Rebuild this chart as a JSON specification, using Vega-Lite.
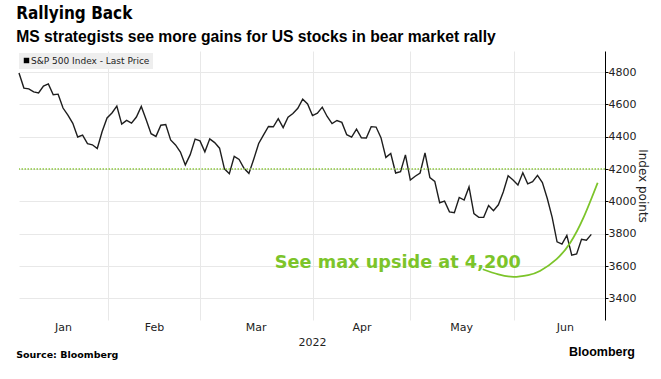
{
  "$schema": "https://vega.github.io/schema/vega-lite/v6.json",
  "background": "white",
  "padding": {"left": 16, "top": 5, "right": 4, "bottom": 4},
  "config": {
    "view": {"stroke": null},
    "font": "DejaVu Sans",
    "concat": {"spacing": 0},
    "axisRight": {"values": [3400, 3600, 3800, 4000, 4200, 4400, 4600, 4800], "format": "d", "labelOverlap": false, "grid": true, "gridColor": "#e8e8e8", "domainColor": "#000000", "tickColor": "#000000", "tickSize": 3, "labelFontSize": 11, "labelColor": "#222222", "labelPadding": 0, "titleFontSize": 12, "titleFontWeight": "normal", "titleColor": "#222222", "titlePadding": 0}
  },
  "title": {
    "text": "Rallying Back",
    "subtitle": "MS strategists see more gains for US stocks in bear market rally",
    "anchor": "start",
    "font": "DejaVu Sans Condensed",
    "fontSize": 17,
    "fontWeight": "bold",
    "color": "#000000",
    "subtitleFont": "Liberation Sans",
    "subtitleFontSize": 15.7,
    "subtitleFontWeight": "bold",
    "subtitleColor": "#000000",
    "subtitlePadding": 7,
    "offset": 5
  },
  "datasets": {
    "spx": [
      {"i": 1, "date": "2022-01-04", "close": 4793.5},
      {"i": 2, "date": "2022-01-05", "close": 4700.6},
      {"i": 3, "date": "2022-01-06", "close": 4696.1},
      {"i": 4, "date": "2022-01-07", "close": 4677.0},
      {"i": 5, "date": "2022-01-10", "close": 4670.3},
      {"i": 6, "date": "2022-01-11", "close": 4713.1},
      {"i": 7, "date": "2022-01-12", "close": 4726.4},
      {"i": 8, "date": "2022-01-13", "close": 4659.0},
      {"i": 9, "date": "2022-01-14", "close": 4662.9},
      {"i": 10, "date": "2022-01-18", "close": 4577.1},
      {"i": 11, "date": "2022-01-19", "close": 4532.8},
      {"i": 12, "date": "2022-01-20", "close": 4482.7},
      {"i": 13, "date": "2022-01-21", "close": 4397.9},
      {"i": 14, "date": "2022-01-24", "close": 4410.1},
      {"i": 15, "date": "2022-01-25", "close": 4356.5},
      {"i": 16, "date": "2022-01-26", "close": 4349.9},
      {"i": 17, "date": "2022-01-27", "close": 4326.5},
      {"i": 18, "date": "2022-01-28", "close": 4431.9},
      {"i": 19, "date": "2022-01-31", "close": 4515.6},
      {"i": 20, "date": "2022-02-01", "close": 4546.5},
      {"i": 21, "date": "2022-02-02", "close": 4589.4},
      {"i": 22, "date": "2022-02-03", "close": 4477.4},
      {"i": 23, "date": "2022-02-04", "close": 4500.5},
      {"i": 24, "date": "2022-02-07", "close": 4483.9},
      {"i": 25, "date": "2022-02-08", "close": 4521.5},
      {"i": 26, "date": "2022-02-09", "close": 4587.2},
      {"i": 27, "date": "2022-02-10", "close": 4504.1},
      {"i": 28, "date": "2022-02-11", "close": 4418.6},
      {"i": 29, "date": "2022-02-14", "close": 4401.7},
      {"i": 30, "date": "2022-02-15", "close": 4471.1},
      {"i": 31, "date": "2022-02-16", "close": 4475.0},
      {"i": 32, "date": "2022-02-17", "close": 4380.3},
      {"i": 33, "date": "2022-02-18", "close": 4348.9},
      {"i": 34, "date": "2022-02-22", "close": 4304.8},
      {"i": 35, "date": "2022-02-23", "close": 4225.5},
      {"i": 36, "date": "2022-02-24", "close": 4288.7},
      {"i": 37, "date": "2022-02-25", "close": 4384.7},
      {"i": 38, "date": "2022-02-28", "close": 4373.9},
      {"i": 39, "date": "2022-03-01", "close": 4306.3},
      {"i": 40, "date": "2022-03-02", "close": 4386.5},
      {"i": 41, "date": "2022-03-03", "close": 4363.5},
      {"i": 42, "date": "2022-03-04", "close": 4328.9},
      {"i": 43, "date": "2022-03-07", "close": 4201.1},
      {"i": 44, "date": "2022-03-08", "close": 4170.7},
      {"i": 45, "date": "2022-03-09", "close": 4277.9},
      {"i": 46, "date": "2022-03-10", "close": 4259.5},
      {"i": 47, "date": "2022-03-11", "close": 4204.3},
      {"i": 48, "date": "2022-03-14", "close": 4173.1},
      {"i": 49, "date": "2022-03-15", "close": 4262.5},
      {"i": 50, "date": "2022-03-16", "close": 4357.9},
      {"i": 51, "date": "2022-03-17", "close": 4411.7},
      {"i": 52, "date": "2022-03-18", "close": 4463.1},
      {"i": 53, "date": "2022-03-21", "close": 4461.2},
      {"i": 54, "date": "2022-03-22", "close": 4511.6},
      {"i": 55, "date": "2022-03-23", "close": 4456.2},
      {"i": 56, "date": "2022-03-24", "close": 4520.2},
      {"i": 57, "date": "2022-03-25", "close": 4543.1},
      {"i": 58, "date": "2022-03-28", "close": 4575.5},
      {"i": 59, "date": "2022-03-29", "close": 4631.6},
      {"i": 60, "date": "2022-03-30", "close": 4602.5},
      {"i": 61, "date": "2022-03-31", "close": 4530.4},
      {"i": 62, "date": "2022-04-01", "close": 4545.9},
      {"i": 63, "date": "2022-04-04", "close": 4582.6},
      {"i": 64, "date": "2022-04-05", "close": 4525.1},
      {"i": 65, "date": "2022-04-06", "close": 4481.2},
      {"i": 66, "date": "2022-04-07", "close": 4500.2},
      {"i": 67, "date": "2022-04-08", "close": 4488.3},
      {"i": 68, "date": "2022-04-11", "close": 4412.5},
      {"i": 69, "date": "2022-04-12", "close": 4397.5},
      {"i": 70, "date": "2022-04-13", "close": 4446.6},
      {"i": 71, "date": "2022-04-14", "close": 4392.6},
      {"i": 72, "date": "2022-04-18", "close": 4391.7},
      {"i": 73, "date": "2022-04-19", "close": 4462.2},
      {"i": 74, "date": "2022-04-20", "close": 4459.5},
      {"i": 75, "date": "2022-04-21", "close": 4393.7},
      {"i": 76, "date": "2022-04-22", "close": 4271.8},
      {"i": 77, "date": "2022-04-25", "close": 4296.1},
      {"i": 78, "date": "2022-04-26", "close": 4175.2},
      {"i": 79, "date": "2022-04-27", "close": 4184.0},
      {"i": 80, "date": "2022-04-28", "close": 4287.5},
      {"i": 81, "date": "2022-04-29", "close": 4131.9},
      {"i": 82, "date": "2022-05-02", "close": 4155.4},
      {"i": 83, "date": "2022-05-03", "close": 4175.5},
      {"i": 84, "date": "2022-05-04", "close": 4300.2},
      {"i": 85, "date": "2022-05-05", "close": 4146.9},
      {"i": 86, "date": "2022-05-06", "close": 4123.3},
      {"i": 87, "date": "2022-05-09", "close": 3991.2},
      {"i": 88, "date": "2022-05-10", "close": 4001.1},
      {"i": 89, "date": "2022-05-11", "close": 3935.2},
      {"i": 90, "date": "2022-05-12", "close": 3930.1},
      {"i": 91, "date": "2022-05-13", "close": 4023.9},
      {"i": 92, "date": "2022-05-16", "close": 4008.0},
      {"i": 93, "date": "2022-05-17", "close": 4088.9},
      {"i": 94, "date": "2022-05-18", "close": 3923.7},
      {"i": 95, "date": "2022-05-19", "close": 3900.8},
      {"i": 96, "date": "2022-05-20", "close": 3901.4},
      {"i": 97, "date": "2022-05-23", "close": 3973.8},
      {"i": 98, "date": "2022-05-24", "close": 3941.5},
      {"i": 99, "date": "2022-05-25", "close": 3978.7},
      {"i": 100, "date": "2022-05-26", "close": 4057.8},
      {"i": 101, "date": "2022-05-27", "close": 4158.2},
      {"i": 102, "date": "2022-05-31", "close": 4132.2},
      {"i": 103, "date": "2022-06-01", "close": 4101.2},
      {"i": 104, "date": "2022-06-02", "close": 4176.8},
      {"i": 105, "date": "2022-06-03", "close": 4108.5},
      {"i": 106, "date": "2022-06-06", "close": 4121.4},
      {"i": 107, "date": "2022-06-07", "close": 4160.7},
      {"i": 108, "date": "2022-06-08", "close": 4115.8},
      {"i": 109, "date": "2022-06-09", "close": 4017.8},
      {"i": 110, "date": "2022-06-10", "close": 3900.9},
      {"i": 111, "date": "2022-06-13", "close": 3749.6},
      {"i": 112, "date": "2022-06-14", "close": 3735.5},
      {"i": 113, "date": "2022-06-15", "close": 3790.0},
      {"i": 114, "date": "2022-06-16", "close": 3666.8},
      {"i": 115, "date": "2022-06-17", "close": 3674.8},
      {"i": 116, "date": "2022-06-21", "close": 3764.8},
      {"i": 117, "date": "2022-06-22", "close": 3759.9},
      {"i": 118, "date": "2022-06-23", "close": 3795.7}
    ],
    "curve": [
      {"i": 95.8, "v": 3580},
      {"i": 99, "v": 3548},
      {"i": 102.1, "v": 3533},
      {"i": 105.1, "v": 3544},
      {"i": 107.5, "v": 3569},
      {"i": 110.9, "v": 3643},
      {"i": 113.7, "v": 3744},
      {"i": 116.4, "v": 3899},
      {"i": 119.3, "v": 4115}
    ],
    "target": [{"level": 4200}],
    "note": [{"i": 53.3, "v": 3618, "label": "See max upside at 4,200"}]
  },
  "vconcat": [
    {
      "title": {"text": "Bloomberg", "orient": "bottom", "anchor": "end", "font": "Liberation Sans", "fontSize": 12.5, "fontWeight": "bold", "color": "#000000", "offset": -14, "dx": -14},
      "vconcat": [
        {
          "title": {"text": "Source: Bloomberg", "orient": "bottom", "anchor": "start", "font": "DejaVu Sans", "fontSize": 9.5, "fontWeight": "bold", "color": "#000000", "offset": 3},
          "width": 586,
          "height": 269,
          "resolve": {"axis": {"x": "independent"}},
          "layer": [
            {
              "data": {"name": "spx"},
              "mark": {"type": "line", "strokeWidth": 1.4},
              "encoding": {
                "x": {
                  "field": "i", "type": "quantitative",
                  "scale": {"domain": [1, 120.8], "nice": false, "zero": false},
                  "axis": {"orient": "bottom", "values": [19.2, 38, 61.15, 81, 102.2], "grid": true, "gridColor": "#e8e8e8", "labels": false, "ticks": false, "domain": false, "title": null}
                },
                "y": {
                  "field": "close", "type": "quantitative",
                  "scale": {"domain": [3266, 4930], "nice": false, "zero": false},
                  "axis": {"orient": "right", "title": "Index points"}
                },
                "color": {
                  "datum": "S&P 500 Index - Last Price", "type": "nominal",
                  "scale": {"range": ["#1e1e1e"]},
                  "legend": {"orient": "none", "legendX": 0, "legendY": 2, "padding": 3, "fillColor": "#eeeeee", "title": null, "symbolType": "square", "symbolSize": 30, "symbolFillColor": "#000000", "symbolStrokeWidth": 0, "labelFontSize": 9, "labelColor": "#222222", "labelOffset": 0}
                }
              }
            },
            {
              "data": {"name": "target"},
              "mark": {"type": "rule", "color": "#8cc63f", "strokeDash": [1.5, 1.5], "strokeWidth": 1.3},
              "encoding": {
                "y": {"field": "level", "type": "quantitative", "scale": {"domain": [3266, 4930], "nice": false, "zero": false}, "axis": {"orient": "right", "title": "Index points"}}
              }
            },
            {
              "data": {"name": "curve"},
              "mark": {"type": "line", "interpolate": "natural", "color": "#7cc42a", "strokeWidth": 1.8},
              "encoding": {
                "x": {
                  "field": "i", "type": "quantitative",
                  "scale": {"domain": [1, 120.8], "nice": false, "zero": false},
                  "axis": {"orient": "bottom", "values": [10, 28.6, 49.4, 71, 91.4, 112.6], "labelExpr": "datum.value < 20 ? 'Jan' : datum.value < 39 ? 'Feb' : datum.value < 62 ? 'Mar' : datum.value < 82 ? 'Apr' : datum.value < 103 ? 'May' : 'Jun'", "grid": false, "ticks": false, "domain": false, "labelFontSize": 11, "labelColor": "#222222", "labelPadding": 1, "title": "2022", "titleFontSize": 11, "titleFontWeight": "normal", "titleColor": "#222222", "titlePadding": 4}
                },
                "y": {"field": "v", "type": "quantitative", "scale": {"domain": [3266, 4930], "nice": false, "zero": false}, "axis": {"orient": "right", "title": "Index points"}}
              }
            },
            {
              "data": {"name": "note"},
              "mark": {"type": "text", "align": "left", "baseline": "middle", "font": "DejaVu Sans", "fontSize": 17.7, "fontWeight": "bold", "color": "#7cc42a"},
              "encoding": {
                "x": {"field": "i", "type": "quantitative", "scale": {"domain": [1, 120.8], "nice": false, "zero": false}, "axis": null},
                "y": {"field": "v", "type": "quantitative", "scale": {"domain": [3266, 4930], "nice": false, "zero": false}, "axis": {"orient": "right", "title": "Index points"}},
                "text": {"field": "label"}
              }
            }
          ]
        }
      ]
    }
  ]
}
